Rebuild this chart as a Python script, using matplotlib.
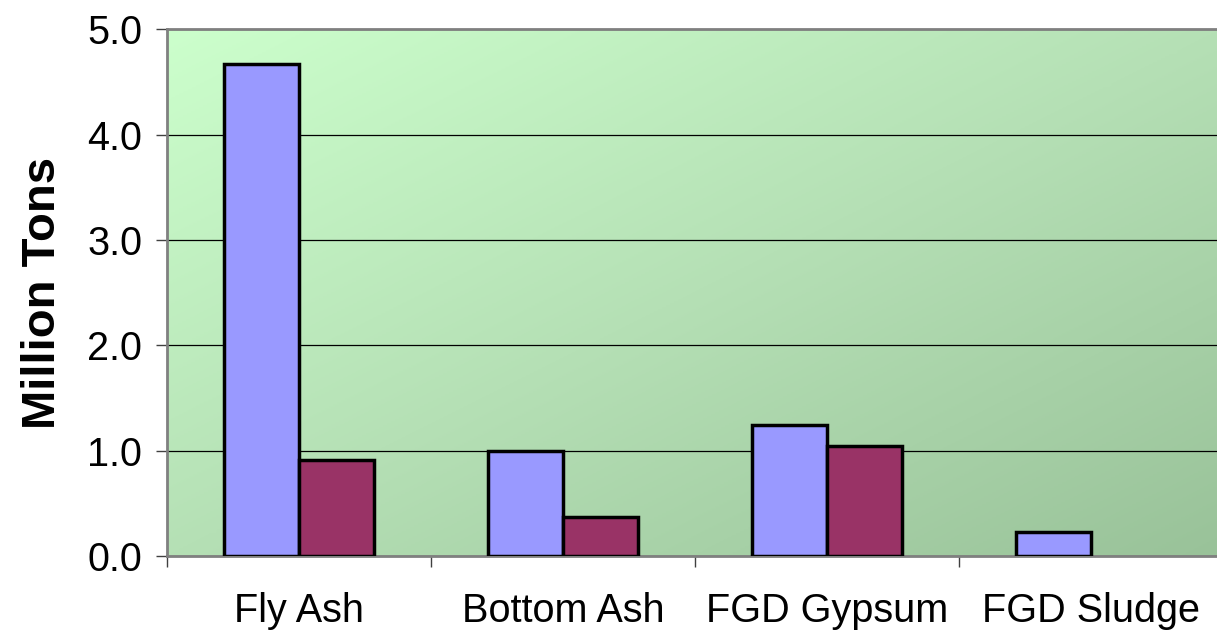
import numpy as np
import matplotlib
matplotlib.use("Agg")
import matplotlib.pyplot as plt
from matplotlib.colors import LinearSegmentedColormap

categories = ["Fly Ash", "Bottom Ash", "FGD Gypsum", "FGD Sludge"]
series_a = [4.67, 1.00, 1.24, 0.23]
series_b = [0.91, 0.37, 1.04, 0.0]
y_ticks = [0.0, 1.0, 2.0, 3.0, 4.0, 5.0]

plt.rcParams["font.family"] = ["Liberation Sans", "DejaVu Sans"]

fig = plt.figure(figsize=(12.17, 6.31), dpi=100)
ax = fig.add_axes([0.1372, 0.1189, 0.8677, 0.8344])

# diagonal green gradient for the plot area
n = 256
gx, gy = np.meshgrid(np.linspace(0, 1, n), np.linspace(0, 1, n))
grad = (gx + gy) / 2.0
cmap = LinearSegmentedColormap.from_list("bg", ["#ccffcc", "#b5e0b5", "#99c299"])
ax.imshow(grad, extent=[0, 1, 0, 1], transform=ax.transAxes, cmap=cmap,
          aspect="auto", zorder=0, origin="upper")

x = np.arange(len(categories))
w = 1 / 3.5
for vals, offset, color in [(series_a, -w / 2, "#9999ff"), (series_b, w / 2, "#993366")]:
    lws = [2.5 if v > 0 else 0 for v in vals]
    ax.bar(x + offset, vals, w, color=color, edgecolor="black", linewidth=lws, zorder=3)

ax.set_xlim(-0.5, len(categories) - 0.5)
ax.set_ylim(0, 5)
ax.set_yticks(y_ticks)
ax.set_yticklabels([f"{v:.1f}" for v in y_ticks], fontsize=28.5)
ax.yaxis.grid(True, color="black", linewidth=0.9, zorder=1)
ax.set_axisbelow(True)

ax.set_xticks(np.arange(len(categories) + 1) - 0.5)
ax.set_xticklabels([])
ax.set_xticks(x, minor=True)
ax.set_xticklabels(categories, minor=True, fontsize=28.5)
ax.tick_params(axis="x", which="major", length=8, width=1, color="#404040", direction="out")
ax.tick_params(axis="x", which="minor", length=0, pad=26)
ax.tick_params(axis="y", length=8, width=1, color="#404040", pad=10)

for side in ["top", "left", "bottom", "right"]:
    ax.spines[side].set_color("#808080")
    ax.spines[side].set_linewidth(2)

ax.set_ylabel("Million Tons", fontsize=34, fontweight="bold", labelpad=16)

fig.savefig("out.png", dpi=100)
